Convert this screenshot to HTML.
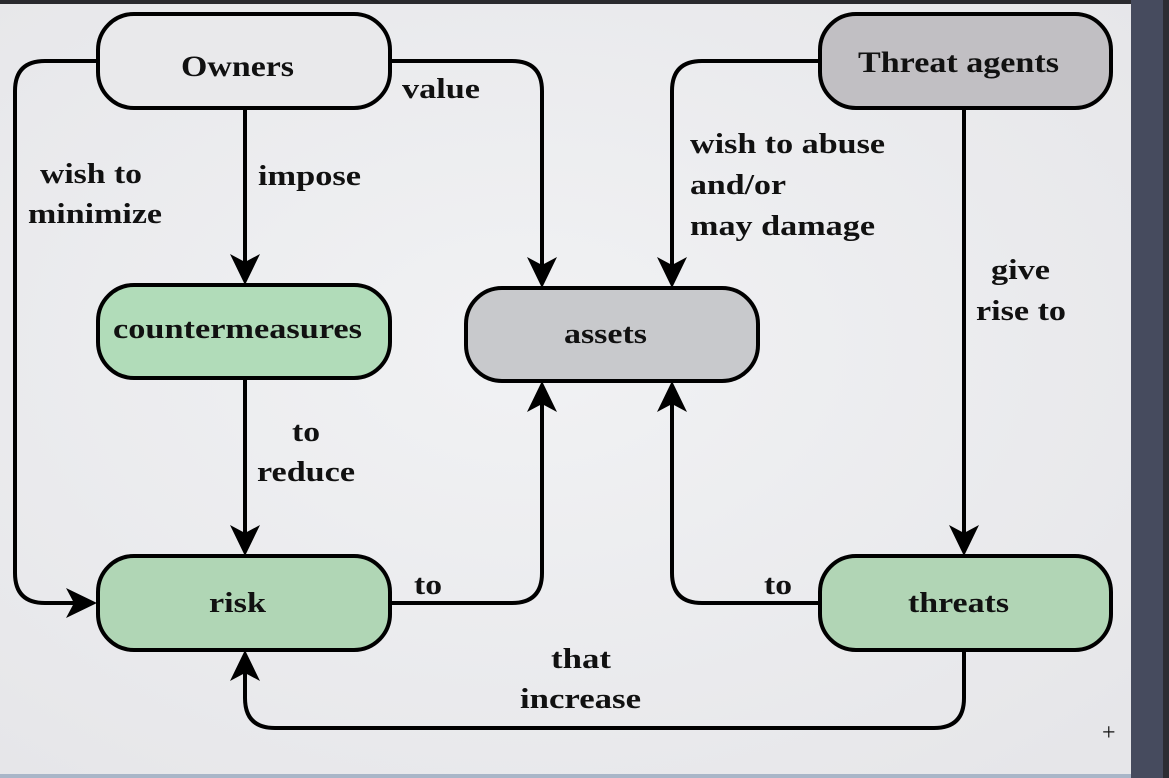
<!DOCTYPE html>
<html><head><style>
html,body{margin:0;padding:0;width:1169px;height:778px;overflow:hidden;background:#e9e9ec}
svg{display:block}
svg text{font-family:"Liberation Serif","Times New Roman","DejaVu Serif",serif !important;font-weight:bold;font-size:28px;fill:#111}
</style></head><body>
<svg width="1169" height="778" viewBox="0 0 1169 778">
<defs>
<radialGradient id="bg" cx="0.45" cy="0.45" r="0.7">
<stop offset="0" stop-color="#f1f2f4"/><stop offset="1" stop-color="#e6e6e9"/>
</radialGradient>
</defs>
<rect width="1169" height="778" fill="url(#bg)"/>
<rect x="0" y="0" width="1169" height="4" fill="#2a2a2e"/>
<rect x="1131" y="0" width="38" height="778" fill="#464b5e"/>
<rect x="1163" y="0" width="6" height="778" fill="#2d2d33"/>
<rect x="0" y="774" width="1131" height="4" fill="#a9b6c8"/>
<g fill="none" stroke="#000" stroke-width="4" stroke-linejoin="round">
<path d="M98 61 H45 Q15 61 15 91 V573 Q15 603 45 603 H84"/>
<path d="M245 108 V272"/>
<path d="M390 61 H512 Q542 61 542 91 V275"/>
<path d="M820 61 H702 Q672 61 672 91 V275"/>
<path d="M964 108 V543"/>
<path d="M245 378 V543"/>
<path d="M390 603 H512 Q542 603 542 573 V394"/>
<path d="M820 603 H702 Q672 603 672 573 V394"/>
<path d="M964 650 V698 Q964 728 934 728 H275 Q245 728 245 698 V663"/>
</g>
<g fill="#000">
<path d="M97 603 L66 588 L74 603 L66 618Z"/>
<path d="M245 285 L230 254 L245 262 L260 254Z"/>
<path d="M542 288 L527 257 L542 265 L557 257Z"/>
<path d="M672 288 L657 257 L672 265 L687 257Z"/>
<path d="M964 556 L949 525 L964 533 L979 525Z"/>
<path d="M245 556 L230 525 L245 533 L260 525Z"/>
<path d="M542 381 L527 412 L542 404 L557 412Z"/>
<path d="M672 381 L657 412 L672 404 L687 412Z"/>
<path d="M245 650 L230 681 L245 673 L260 681Z"/>
</g>
<g stroke="#000" stroke-width="4">
<rect x="98" y="14" width="292" height="94" rx="36" fill="#e9e9eb"/>
<rect x="820" y="14" width="291" height="94" rx="36" fill="#c1bfc3"/>
<rect x="98" y="285" width="292" height="93" rx="36" fill="#b1dcb9"/>
<rect x="466" y="288" width="292" height="93" rx="36" fill="#c8c9cc"/>
<rect x="98" y="556" width="292" height="94" rx="36" fill="#b0d6b5"/>
<rect x="820" y="556" width="291" height="94" rx="36" fill="#b1d5b5"/>
</g>
<g lengthAdjust="spacingAndGlyphs">
<text x="181" y="76" textLength="113" lengthAdjust="spacingAndGlyphs" style="font-size:30px">Owners</text>
<text x="858" y="72" textLength="201" lengthAdjust="spacingAndGlyphs" style="font-size:30px">Threat agents</text>
<text x="113" y="338" textLength="249" lengthAdjust="spacingAndGlyphs">countermeasures</text>
<text x="564" y="343" textLength="83" lengthAdjust="spacingAndGlyphs">assets</text>
<text x="209" y="612" textLength="57" lengthAdjust="spacingAndGlyphs">risk</text>
<text x="908" y="612" textLength="101" lengthAdjust="spacingAndGlyphs">threats</text>
<text x="40" y="183" textLength="102" lengthAdjust="spacingAndGlyphs">wish to</text>
<text x="28" y="223" textLength="134" lengthAdjust="spacingAndGlyphs">minimize</text>
<text x="292" y="441" textLength="28" lengthAdjust="spacingAndGlyphs">to</text>
<text x="257" y="481" textLength="98" lengthAdjust="spacingAndGlyphs">reduce</text>
<text x="991" y="279" textLength="59" lengthAdjust="spacingAndGlyphs">give</text>
<text x="976" y="320" textLength="90" lengthAdjust="spacingAndGlyphs">rise to</text>
<text x="551" y="668" textLength="60" lengthAdjust="spacingAndGlyphs">that</text>
<text x="520" y="708" textLength="121" lengthAdjust="spacingAndGlyphs">increase</text>
<text x="258" y="185" textLength="103" lengthAdjust="spacingAndGlyphs">impose</text>
<text x="402" y="98" textLength="78" lengthAdjust="spacingAndGlyphs">value</text>
<text x="690" y="153" textLength="195" lengthAdjust="spacingAndGlyphs">wish to abuse</text>
<text x="690" y="194" textLength="96" lengthAdjust="spacingAndGlyphs">and/or</text>
<text x="690" y="235" textLength="185" lengthAdjust="spacingAndGlyphs">may damage</text>
<text x="414" y="594" textLength="28" lengthAdjust="spacingAndGlyphs">to</text>
<text x="764" y="594" textLength="28" lengthAdjust="spacingAndGlyphs">to</text>
</g>
<text x="1102" y="740" style="font-size:24px;font-weight:normal">+</text>
</svg>
</body></html>
